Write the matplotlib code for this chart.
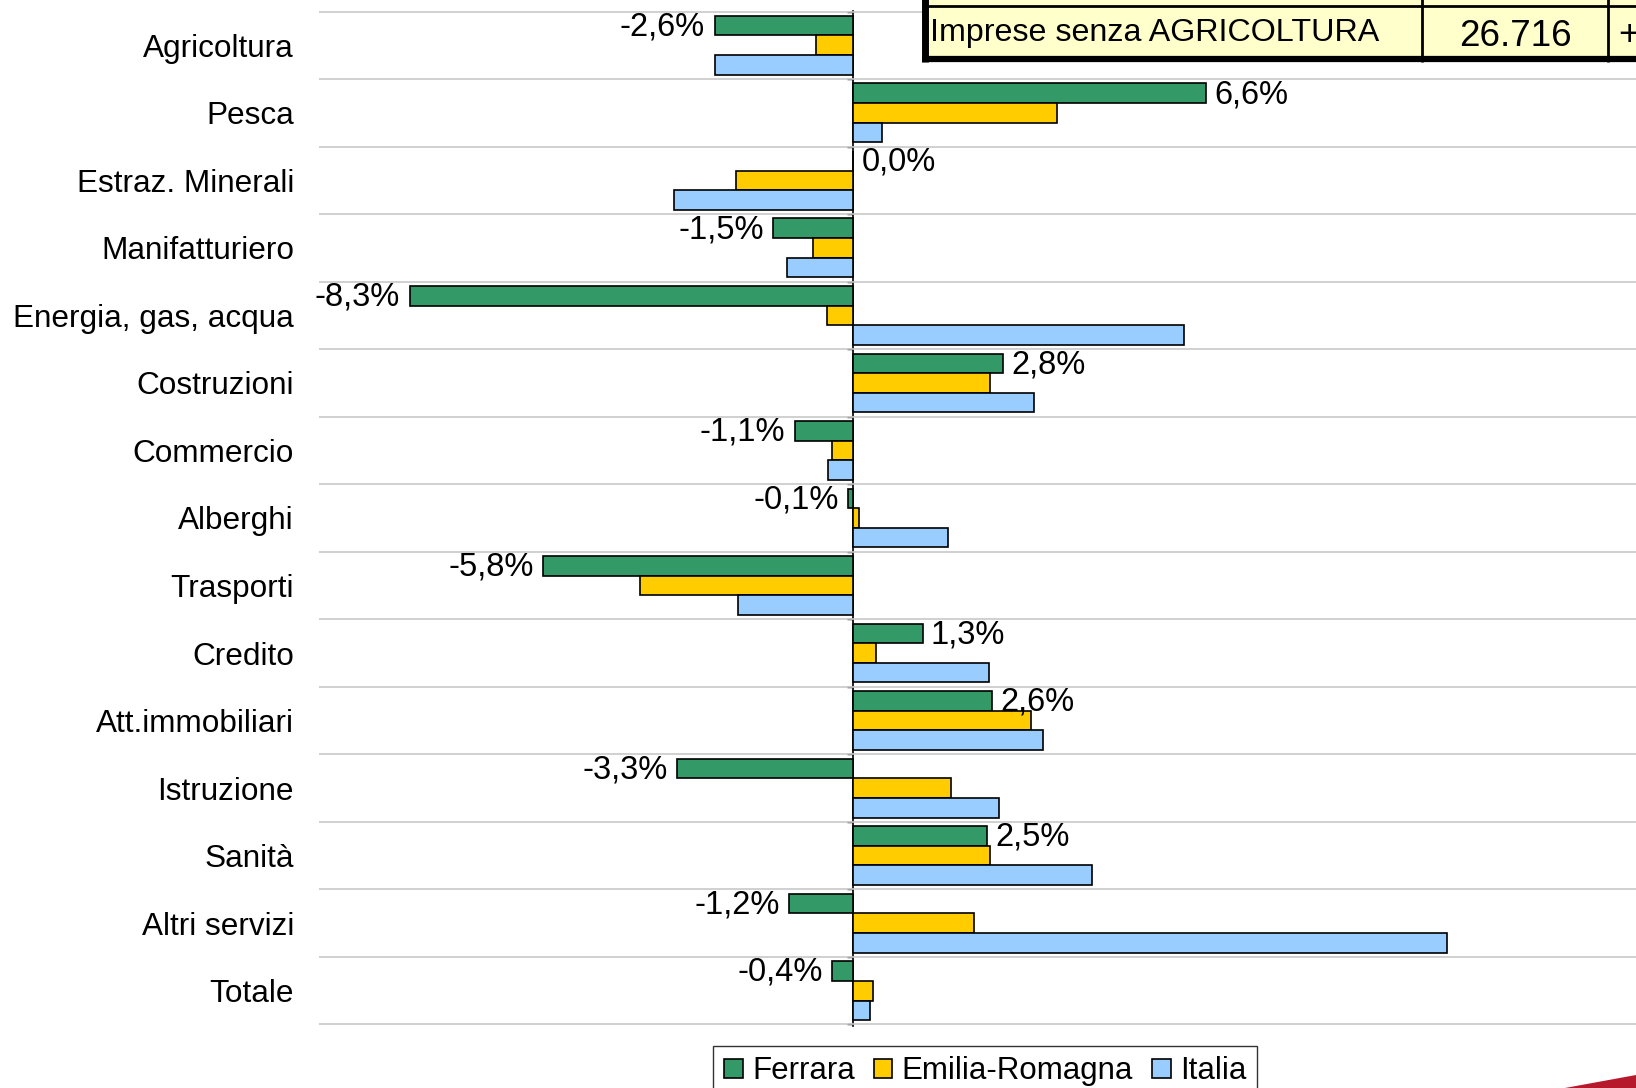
import numpy as np
import matplotlib.pyplot as plt
from matplotlib.patches import Rectangle, Polygon
from matplotlib.lines import Line2D

plt.rcParams["font.family"] = ["Liberation Sans", "DejaVu Sans"]

settori = ["Agricoltura", "Pesca", "Estraz. Minerali", "Manifatturiero",
           "Energia, gas, acqua", "Costruzioni", "Commercio", "Alberghi",
           "Trasporti", "Credito", "Att.immobiliari", "Istruzione",
           "Sanità", "Altri servizi", "Totale"]
ferrara = [-2.6, 6.6, 0.0, -1.5, -8.3, 2.8, -1.1, -0.1, -5.8, 1.3, 2.6, -3.3, 2.5, -1.2, -0.4]
emilia = [-0.7, 3.8, -2.2, -0.75, -0.5, 2.55, -0.4, 0.1, -4.0, 0.43, 3.33, 1.83, 2.55, 2.26, 0.37]
italia = [-2.6, 0.53, -3.35, -1.25, 6.18, 3.37, -0.47, 1.77, -2.16, 2.53, 3.55, 2.73, 4.46, 11.1, 0.31]
serie = ["Ferrara", "Emilia-Romagna", "Italia"]
colori = ["#339966", "#FFCC00", "#99CCFF"]

W, H = 1636, 1088
fig = plt.figure(figsize=(W / 100, H / 100), dpi=100)
ax = fig.add_axes([319 / W, 1 - 1025.5 / H, 1 - 319 / W, (1025.5 - 10.5) / H])

y = np.arange(len(settori))
h = 0.29
for k, (vals, col, nome) in enumerate(zip([ferrara, emilia, italia], colori, serie)):
    ax.barh(y + (k - 1) * h, vals, height=h, color=col, edgecolor="black",
            linewidth=1.2, label=nome, zorder=3)

# etichette solo Ferrara
for yi, v in zip(y, ferrara):
    txt = f"{v:.1f}%".replace(".", ",")
    if v < 0:
        ax.text(v - 0.18, yi - h + 0.02, txt, ha="right", va="center", fontsize=23.5, zorder=4)
    else:
        ax.text(v + 0.15, yi - h + 0.02, txt, ha="left", va="center", fontsize=23.5, zorder=4)

ax.set_xlim(-10, 14.64)
ax.set_ylim(len(settori) - 0.5 + 0.015, -0.5 - 0.015)
ax.set_yticks(y)
ax.set_yticklabels(settori, fontsize=22.7)
ax.tick_params(axis="y", length=0, pad=18)
ax.set_xticks([])
ax.set_yticks(np.arange(-0.5, len(settori)), minor=True)
ax.tick_params(axis="y", which="minor", length=0)
ax.grid(which="minor", axis="y", color="#c8c8c8", linewidth=1.2, zorder=0)
for s in ax.spines.values():
    s.set_visible(False)

# asse dello zero con tacche
zero_pos = (0 - (-10)) / (14.64 + 10)
sec = ax.secondary_yaxis(zero_pos)
sec.set_yticks(np.arange(-0.5, len(settori)))
sec.set_yticklabels([])
sec.tick_params(axis="y", direction="out", length=4.5, width=1, color="black")
sec.spines["left"].set_linewidth(1.2)

# legenda (tagliata in basso)
fig.legend(loc="upper left", bbox_to_anchor=(713 / W, 1 - 1045.5 / H), ncol=3,
           fontsize=22.5, frameon=True, fancybox=False, edgecolor="black",
           handlelength=0.6, handleheight=0.6, handletextpad=0.3,
           columnspacing=0.6, borderpad=0.35, borderaxespad=0)

# tabella in alto a destra
def fx(px):
    return px / W

def fy(py):
    return 1 - py / H

fig.patches.append(Rectangle((fx(925), fy(59)), 1, fy(-5) - fy(59), transform=fig.transFigure,
                             facecolor="#FFFFCC", edgecolor="none", zorder=5))
for x0, lw in [(925, 5), (1422, 2), (1608, 2)]:
    fig.lines.append(Line2D([fx(x0), fx(x0)], [fy(-5), fy(61.5)], transform=fig.transFigure,
                            color="black", linewidth=lw, solid_capstyle="butt", zorder=6))
fig.lines.append(Line2D([fx(922), 1], [fy(6), fy(6)], transform=fig.transFigure,
                        color="black", linewidth=2, solid_capstyle="butt", zorder=6))
fig.lines.append(Line2D([fx(921.5), 1], [fy(58.5), fy(58.5)], transform=fig.transFigure,
                        color="black", linewidth=4.5, solid_capstyle="butt", zorder=6))
fig.text(fx(930), fy(33), "Imprese senza AGRICOLTURA", ha="left", va="center",
         fontsize=23.2, zorder=7)
fig.text(fx(1515), fy(36), "26.716", ha="center", va="center", fontsize=26.5, zorder=7)
fig.text(fx(1618), fy(36), "+", ha="left", va="center", fontsize=26.5, zorder=7)

# decorazione rossa in basso a destra
fig.patches.append(Polygon([(fx(1565), 0), (1, fy(1075)), (1, 0)], closed=True,
                           transform=fig.transFigure, facecolor="#B5192B",
                           edgecolor="none", zorder=5))

fig.savefig("out.png", dpi=100)
